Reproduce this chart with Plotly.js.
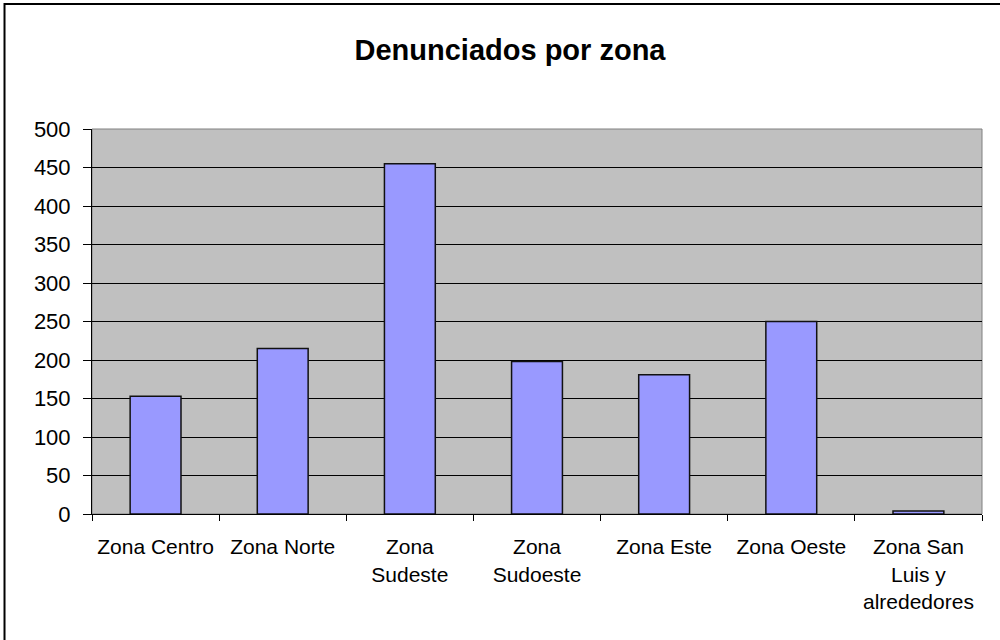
<!DOCTYPE html>
<html>
<head>
<meta charset="utf-8">
<script src="https://cdn.plot.ly/plotly-3.0.1.min.js"></script>
<style>
  html, body { margin: 0; padding: 0; background: #fff; }
  #chart { width: 1000px; height: 640px; }
</style>
</head>
<body>
<div id="chart"></div>
<script>
const categories = ["Zona Centro", "Zona Norte", "Zona<br>Sudeste", "Zona<br>Sudoeste", "Zona Este", "Zona Oeste", "Zona San<br>Luis y<br>alrededores"];
const denunciados = [153, 215, 455, 198, 181, 250, 4];
const yTicks = [0, 50, 100, 150, 200, 250, 300, 350, 400, 450, 500];
const chartTitle = "Denunciados por zona";

const FONT = "Arial, 'Liberation Sans', sans-serif";

const trace = {
  type: "bar",
  x: categories,
  y: denunciados,
  marker: { color: "#9999FF", line: { color: "#111111", width: 1.5 } },
  hoverinfo: "x+y"
};

const layout = {
  width: 1000,
  height: 640,
  margin: { l: 92, r: 18, t: 129, b: 126 },
  paper_bgcolor: "#FFFFFF",
  plot_bgcolor: "#C0C0C0",
  showlegend: false,
  bargap: 0.6,
  font: { family: FONT, color: "#000000", size: 21 },
  title: {
    text: "<b>" + chartTitle + "</b>",
    font: { family: FONT, size: 29, color: "#000000" },
    xref: "container", x: 0.51, xanchor: "center",
    yref: "container", y: 0.922, yanchor: "middle"
  },
  xaxis: {
    type: "category",
    tickson: "boundaries",
    ticks: "outside",
    ticklen: 6,
    tickcolor: "#000000",
    tickwidth: 1,
    showline: true,
    linecolor: "#000000",
    linewidth: 1,
    showgrid: false,
    tickfont: { family: FONT, size: 21, color: "#000000" },
    ticklabelstandoff: 14,
    fixedrange: true
  },
  yaxis: {
    range: [0, 500],
    tickvals: yTicks,
    ticktext: yTicks.map(String),
    ticks: "outside",
    ticklen: 8,
    tickcolor: "#000000",
    tickwidth: 1,
    showline: true,
    linecolor: "#000000",
    linewidth: 1,
    showgrid: true,
    gridcolor: "#000000",
    gridwidth: 1,
    zeroline: false,
    tickfont: { family: FONT, size: 22, color: "#000000" },
    ticklabelstandoff: 8,
    fixedrange: true
  },
  shapes: [
    {
      type: "rect", xref: "paper", yref: "paper",
      x0: 0, x1: 1, y0: 0, y1: 1,
      line: { color: "#808080", width: 1 },
      layer: "below"
    },
    {
      type: "rect", xref: "paper", yref: "paper",
      x0: -0.0983, x1: 1.03, y0: -0.34, y1: 1.3247,
      line: { color: "#000000", width: 2 },
      layer: "above"
    }
  ]
};

Plotly.newPlot("chart", [trace], layout, { displayModeBar: false, staticPlot: true });
</script>
</body>
</html>
